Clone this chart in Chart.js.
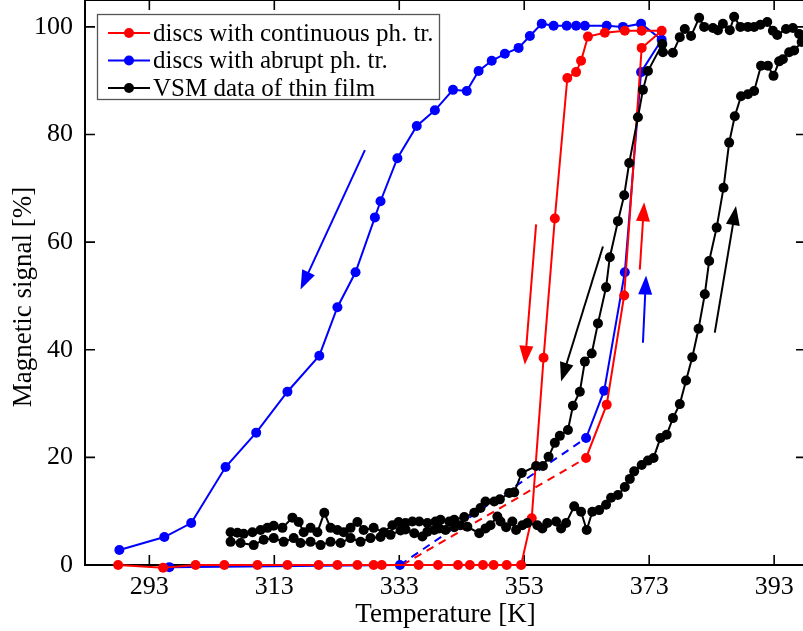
<!DOCTYPE html>
<html>
<head>
<meta charset="utf-8">
<script src="https://cdn.jsdelivr.net/npm/chart.js@4.4.0/dist/chart.umd.min.js"></script>
<style>
    html, body { margin: 0; padding: 0; background: #fff; overflow: hidden; }
</style>
</head>
<body>
<canvas id="chartCanvas" width="806" height="631"></canvas>
<script>
// Tick values
const xTicks = [293, 313, 333, 353, 373, 393];
const yTicks = [0, 20, 40, 60, 80, 100];

// Legend labels and axis titles
const seriesNames = ['discs with continuous ph. tr.', 'discs with abrupt ph. tr.', 'VSM data of thin film'];
const xTitle = 'Temperature [K]';
const yTitle = 'Magnetic signal [%]';

// Discs with continuous transition: heating branch up, then cooling branch down to the zero line
const redLoop = [
    [362.9, 19.9], [366.2, 29.8], [369.0, 50.1], [371.8, 96.1], [375.0, 99.3],
    [371.8, 99.3], [369.1, 99.3], [365.9, 98.9], [363.2, 98.2], [362.1, 93.7],
    [361.3, 91.6], [359.9, 90.5], [357.9, 64.4], [356.1, 38.5], [354.2, 8.7],
    [352.5, 0], [350.2, 0], [348.1, 0], [346.4, 0], [344.3, 0], [342.4, 0],
    [339.2, 0], [336.1, 0], [330.2, 0], [328.9, 0], [326.3, 0], [323.1, 0],
    [320.1, 0], [315.1, 0], [310.3, 0], [305.0, 0], [300.4, 0], [295.2, -0.5], [288.0, 0]
];
const redDash = [[333.5, 0], [362.9, 19.9]];

// Discs with abrupt transition
const blueLow = [[296.2, -0.4], [333.1, 0]];
const blueLoop = [
    [362.9, 23.6], [365.8, 32.4], [369.1, 54.4], [371.7, 91.6], [375.0, 97.6],
    [371.7, 100.6], [368.8, 100.0], [366.2, 100.2], [362.7, 100.2], [361.3, 100.2],
    [359.8, 100.2], [357.7, 100.2], [355.8, 100.6], [353.9, 98.3], [352.1, 96.1],
    [349.9, 95.0], [347.8, 93.7], [345.7, 91.8], [343.8, 88.1], [341.6, 88.3],
    [338.7, 84.5], [335.8, 81.6], [332.7, 75.6], [330.0, 67.6], [329.1, 64.6],
    [326.0, 54.4], [323.1, 47.9], [320.2, 38.9], [315.1, 32.2], [310.1, 24.6],
    [305.2, 18.2], [299.7, 7.8], [295.4, 5.2], [288.2, 2.8]
];
const blueDash = [[333.1, 0], [362.9, 23.6]];

// VSM thin film: cooling (right to left) then heating (left to right)
const vsmCooling = [
    [397.0, 98.7], [396.0, 99.8], [394.9, 99.6], [393.5, 98.5], [392.8, 99.3], [391.9, 100.9],
    [390.8, 100.4], [389.8, 100.0], [388.8, 100.0], [387.6, 100.0], [386.6, 101.9], [385.9, 99.4],
    [384.8, 100.6], [384.0, 99.4], [383.2, 99.8], [381.8, 100.0], [381.0, 101.7], [379.7, 98.3],
    [378.7, 99.6], [377.9, 98.1], [376.8, 95.2], [375.2, 95.3], [375.1, 96.8], [372.8, 91.8],
    [372.0, 88.3], [371.2, 83.2], [369.8, 74.7], [369.0, 68.7], [368.0, 63.9], [366.7, 57.2],
    [366.1, 51.6], [364.8, 44.9], [363.8, 39.3], [362.7, 37.8], [361.9, 32.2], [360.8, 29.6],
    [360.0, 25.1], [358.7, 24.0], [357.9, 22.7], [356.9, 20.1], [356.0, 18.4], [354.9, 18.4],
    [352.6, 17.1], [351.4, 13.5], [350.6, 13.4], [349.1, 12.2], [348.2, 11.8], [346.8, 11.8],
    [346.0, 10.6], [345.0, 9.7], [343.4, 8.9], [341.8, 8.4], [341.0, 8.1], [339.6, 8.4],
    [338.8, 8.1], [337.5, 7.8], [336.2, 8.1], [335.1, 8.1], [334.0, 7.8], [332.9, 8.0],
    [331.9, 7.4], [330.5, 6.1], [328.9, 6.9], [327.3, 6.5], [326.3, 8.0], [325.2, 6.9],
    [324.1, 6.1], [323.1, 6.5], [322.0, 6.9], [321.0, 9.7], [319.9, 6.1], [318.8, 6.9],
    [317.7, 6.1], [316.9, 8.0], [315.9, 8.8], [314.3, 6.9], [312.9, 7.3], [311.9, 6.9],
    [310.8, 6.5], [309.5, 6.1], [308.1, 5.8], [307.1, 6.0], [306.0, 6.1]
];
const vsmHeating = [
    [306.0, 4.3], [307.6, 4.1], [309.7, 3.7], [311.3, 4.7], [312.9, 5.0], [314.5, 4.3],
    [316.1, 5.0], [317.2, 4.1], [318.8, 4.3], [320.4, 3.7], [322.0, 4.3], [323.6, 4.1],
    [325.2, 5.0], [326.8, 4.3], [328.4, 5.0], [330.0, 5.2], [331.6, 5.6], [333.2, 6.4],
    [334.0, 6.6], [335.4, 5.9], [336.7, 5.3], [337.5, 6.2], [338.6, 6.5], [339.4, 6.8],
    [340.4, 6.5], [341.8, 7.0], [342.8, 7.4], [343.9, 7.1], [345.8, 5.9], [346.8, 6.8],
    [347.6, 7.4], [348.7, 9.0], [349.2, 8.1], [350.1, 7.0], [351.1, 8.1], [351.7, 6.5],
    [352.7, 7.4], [353.5, 7.8], [355.1, 7.4], [355.9, 6.8], [356.7, 7.8], [358.1, 8.1],
    [358.9, 6.8], [359.7, 7.8], [361.0, 10.9], [362.1, 9.9], [363.0, 6.5], [363.9, 9.9],
    [365.0, 10.2], [366.1, 11.2], [366.9, 12.5], [368.0, 13.0], [369.1, 14.5], [369.9, 16.0],
    [370.6, 17.4], [371.8, 18.6], [372.8, 19.4], [373.7, 19.9], [374.8, 23.6], [375.8, 24.2],
    [376.8, 27.3], [377.9, 29.9], [378.9, 34.3], [379.9, 38.6], [380.9, 43.9], [381.9, 50.3],
    [382.6, 56.5], [383.8, 62.7], [384.9, 70.1], [385.8, 78.5], [386.7, 83.4], [387.7, 87.1],
    [388.8, 87.5], [389.8, 88.1], [390.9, 92.8], [392.0, 92.8], [392.9, 90.9], [393.8, 93.6],
    [394.4, 94.0], [395.4, 95.3], [396.2, 95.6], [397.4, 97.2]
];

// Direction arrows (temperature, signal): tail -> tip
const arrowTails = [[327.5, 77.1], [354.9, 63.3], [365.6, 59.2], [371.5, 54.9], [372.0, 41.3], [383.5, 43.2]];
const arrowTips = [[317.2, 51.2], [353.1, 37.2], [358.9, 34.1], [372.2, 67.4], [372.5, 53.8], [386.9, 66.7]];
const arrowColors = ['#0000ff', '#ff0000', '#000000', '#ff0000', '#0000ff', '#000000'];

const RED = '#ff0000';
const BLUE = '#0000ff';
const BLACK = '#000000';
const FONT = "'Liberation Serif', 'Times New Roman', serif";

Chart.defaults.font.family = FONT;
Chart.defaults.color = '#000';

function line(points, color, extra) {
    return Object.assign({
        data: points.map(p => ({ x: p[0], y: p[1] })),
        borderColor: color,
        backgroundColor: color,
        borderWidth: 2,
        pointRadius: 5,
        pointHoverRadius: 5,
        pointBorderWidth: 0,
        showLine: true,
        tension: 0,
        clip: false
    }, extra || {});
}

const dashed = { pointRadius: 0, pointHoverRadius: 0, borderDash: [8, 6] };

// Frame with inward ticks on all four sides
const frameTicks = {
    id: 'frameTicks',
    beforeDatasetsDraw(chart) {
        const { ctx, chartArea: a, scales: { x, y } } = chart;
        ctx.save();
        ctx.strokeStyle = '#000';
        ctx.lineWidth = 1.6;
        ctx.beginPath();
        xTicks.forEach(v => {
            const px = x.getPixelForValue(v);
            ctx.moveTo(px, a.bottom); ctx.lineTo(px, a.bottom - 10);
            ctx.moveTo(px, a.top); ctx.lineTo(px, a.top + 10);
        });
        yTicks.forEach(v => {
            const py = y.getPixelForValue(v);
            ctx.moveTo(a.left, py); ctx.lineTo(a.left + 10, py);
            ctx.moveTo(a.right, py); ctx.lineTo(a.right - 10, py);
        });
        ctx.stroke();
        ctx.lineWidth = 2;
        ctx.strokeRect(a.left, a.top, a.right - a.left, a.bottom - a.top);
        ctx.restore();
    }
};

// Arrows, y title and the boxed legend
const overlay = {
    id: 'overlay',
    afterDatasetsDraw(chart) {
        const { ctx, scales: { x, y } } = chart;
        ctx.save();
        arrowTails.forEach((t, i) => {
            const x0 = x.getPixelForValue(t[0]), y0 = y.getPixelForValue(t[1]);
            const x1 = x.getPixelForValue(arrowTips[i][0]), y1 = y.getPixelForValue(arrowTips[i][1]);
            const len = Math.hypot(x1 - x0, y1 - y0);
            const ux = (x1 - x0) / len, uy = (y1 - y0) / len;
            const head = 19, half = 7;
            const bx = x1 - ux * head, by = y1 - uy * head;
            ctx.strokeStyle = arrowColors[i];
            ctx.fillStyle = arrowColors[i];
            ctx.lineWidth = 2;
            ctx.beginPath();
            ctx.moveTo(x0, y0);
            ctx.lineTo(bx + ux * 2, by + uy * 2);
            ctx.stroke();
            ctx.beginPath();
            ctx.moveTo(x1, y1);
            ctx.lineTo(bx - uy * half, by + ux * half);
            ctx.lineTo(bx + uy * half, by - ux * half);
            ctx.closePath();
            ctx.fill();
        });

        // y axis title
        ctx.fillStyle = '#000';
        ctx.font = '27px ' + FONT;
        ctx.textAlign = 'center';
        ctx.textBaseline = 'middle';
        ctx.translate(24, 297);
        ctx.rotate(-Math.PI / 2);
        ctx.fillText(yTitle, 0, 0);
        ctx.setTransform(1, 0, 0, 1, 0, 0);

        // legend box
        ctx.textAlign = 'left';
        ctx.fillStyle = '#fff';
        ctx.fillRect(97, 14, 342, 85);
        ctx.strokeStyle = '#555';
        ctx.lineWidth = 1.3;
        ctx.strokeRect(97.5, 14.5, 342, 85);
        const colors = [RED, BLUE, BLACK];
        ctx.font = '25px ' + FONT;
        seriesNames.forEach((name, i) => {
            const ry = 33 + i * 27.5;
            ctx.strokeStyle = colors[i];
            ctx.fillStyle = colors[i];
            ctx.lineWidth = 2;
            ctx.beginPath();
            ctx.moveTo(108, ry); ctx.lineTo(150, ry);
            ctx.stroke();
            ctx.beginPath();
            ctx.arc(129, ry, 5, 0, Math.PI * 2);
            ctx.fill();
            ctx.fillStyle = '#000';
            ctx.fillText(name, 153, ry + 1);
        });
        ctx.restore();
    }
};

const chart = new Chart(document.getElementById('chartCanvas'), {
    type: 'scatter',
    data: {
        datasets: [
            line(vsmCooling.concat(vsmHeating), BLACK),
            line(redLoop, RED),
            line(blueLoop, BLUE),
            line(blueLow, BLUE),
            line(redDash, RED, dashed),
            line(blueDash, BLUE, dashed)
        ]
    },
    options: {
        responsive: false,
        animation: false,
        events: [],
        layout: { padding: 0, autoPadding: false },
        plugins: {
            legend: { display: false },
            tooltip: { enabled: false }
        },
        scales: {
            x: {
                type: 'linear',
                min: 282.7,
                max: 398.1,
                afterFit(s) { s.height = 66; s.paddingLeft = 0; s.paddingRight = 0; },
                afterBuildTicks(s) { s.ticks = xTicks.map(v => ({ value: v })); },
                grid: { display: false, drawTicks: false },
                border: { display: false },
                ticks: { font: { size: 26 }, color: '#000', padding: 7, maxRotation: 0, autoSkip: false },
                title: { display: true, text: xTitle, font: { size: 27 }, color: '#000', padding: { top: 0, bottom: 0 } }
            },
            y: {
                type: 'linear',
                min: 0,
                max: 105,
                afterFit(s) { s.width = 85; s.paddingTop = 0; s.paddingBottom = 0; },
                afterBuildTicks(s) { s.ticks = yTicks.map(v => ({ value: v })); },
                grid: { display: false, drawTicks: false },
                border: { display: false },
                ticks: { font: { size: 26 }, color: '#000', padding: 12 },
                title: { display: false }
            }
        }
    },
    plugins: [frameTicks, overlay]
});
</script>
</body>
</html>
